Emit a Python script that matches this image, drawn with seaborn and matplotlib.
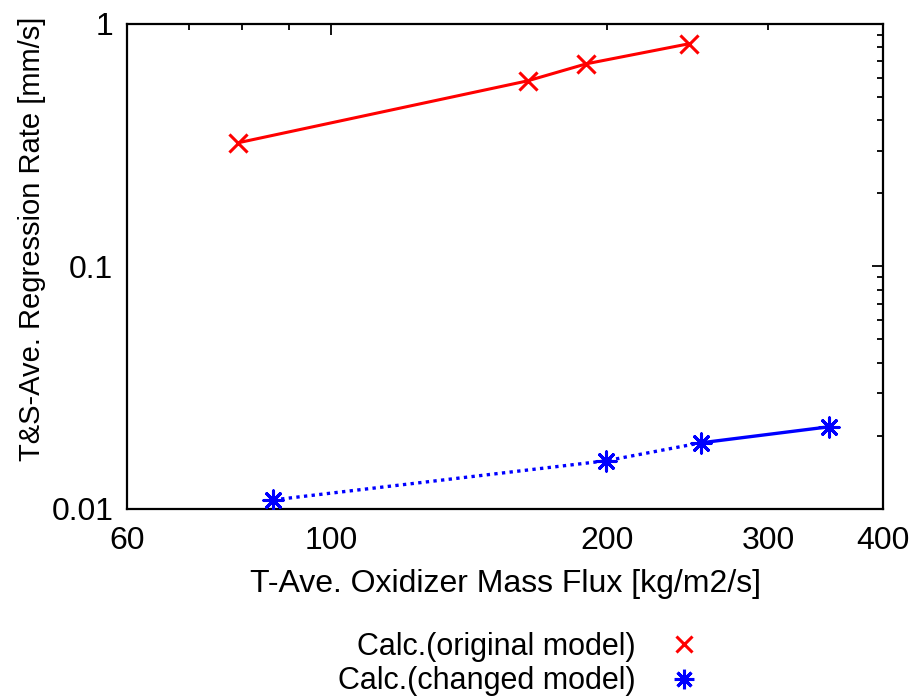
import matplotlib
matplotlib.use("Agg")
import matplotlib.pyplot as plt
import matplotlib.ticker as mticker
from matplotlib.lines import Line2D
import numpy as np
import pandas as pd
import seaborn as sns

# Regression rate vs. oxidizer mass flux
orig_flux = [79.2, 164.0, 190.0, 245.7]
orig_rate = [0.323, 0.582, 0.684, 0.827]

changed_flux = [86.6, 199.5, 253.0, 349.0]
changed_rate = [0.01089, 0.01578, 0.01871, 0.02179]

x_tick_values = [60, 100, 200, 300, 400]
x_tick_labels = ["60", "100", "200", "300", "400"]
y_tick_values = [0.01, 0.1, 1]
y_tick_labels = ["0.01", "0.1", "1"]

legend_labels = ["Calc.(original model)", "Calc.(changed model)"]

sns.set_theme(style="white")
plt.rcParams["font.family"] = ["Liberation Sans", "DejaVu Sans"]

fig = plt.figure(figsize=(9.16, 6.99), dpi=100)
ax = fig.add_axes([0.139, 0.272, 0.825, 0.694])

orig = pd.DataFrame({"flux": orig_flux, "rate": orig_rate})
chg = pd.DataFrame({"flux": changed_flux, "rate": changed_rate})

red = "#ff0000"
blue = "#0000ff"
FS = 23

sns.lineplot(data=orig, x="flux", y="rate", ax=ax, color=red, lw=2.2,
             sort=False, estimator=None)
sns.scatterplot(data=orig, x="flux", y="rate", ax=ax, marker="x", s=170,
                color=red, linewidth=2.2, zorder=5)

# changed model: dotted up to the third point, solid afterwards
sns.lineplot(data=chg.iloc[:3], x="flux", y="rate", ax=ax, color=blue, lw=2.4,
             linestyle=(0, (1, 1.3)), sort=False, estimator=None)
sns.lineplot(data=chg.iloc[2:], x="flux", y="rate", ax=ax, color=blue, lw=2.4,
             sort=False, estimator=None)
ast = (8, 2, 0)
sns.scatterplot(data=chg, x="flux", y="rate", ax=ax, marker=ast, s=190,
                color=blue, edgecolor=blue, linewidth=2.2, zorder=5)

ax.set_xscale("log")
ax.set_yscale("log")
ax.set_xlim(60, 400)
ax.set_ylim(0.01, 1)

# x ticks: decade major at 100, the rest minor; labelled at given values
ax.xaxis.set_major_locator(mticker.FixedLocator([100]))
ax.xaxis.set_major_formatter(mticker.FixedFormatter(["100"]))
minor_x = [60, 70, 80, 90, 200, 300, 400]
ax.xaxis.set_minor_locator(mticker.FixedLocator(minor_x))
minor_lbl = {v: l for v, l in zip(x_tick_values, x_tick_labels)}
ax.xaxis.set_minor_formatter(mticker.FixedFormatter([minor_lbl.get(v, "") for v in minor_x]))

ax.yaxis.set_major_locator(mticker.FixedLocator(y_tick_values))
ax.yaxis.set_major_formatter(mticker.FixedFormatter(y_tick_labels))
ax.yaxis.set_minor_locator(mticker.LogLocator(base=10, subs=np.arange(2, 10)))
ax.yaxis.set_minor_formatter(mticker.NullFormatter())

ax.tick_params(which="both", direction="in", top=True, right=True,
               color="black", width=1.3, labelsize=FS, labelcolor="black")
ax.tick_params(which="major", length=8)
ax.tick_params(which="minor", length=4)
ax.tick_params(axis="x", which="both", pad=12)
ax.tick_params(axis="y", which="both", pad=10)

for s in ax.spines.values():
    s.set_color("black")
    s.set_linewidth(1.6)

ax.set_xlabel("T-Ave. Oxidizer Mass Flux [kg/m2/s]", fontsize=FS, labelpad=10,
              color="black")
ax.set_ylabel("T&S-Ave. Regression Rate [mm/s]", fontsize=21, color="black")
ax.yaxis.set_label_coords(-0.108, 0.557)

handles = [
    Line2D([], [], linestyle="none", marker="x", color=red, markersize=12,
           markeredgewidth=2.2),
    Line2D([], [], linestyle="none", marker=ast, color=blue, markersize=14,
           markeredgewidth=2.2),
]
fig.legend(handles, legend_labels, loc="center",
           bbox_to_anchor=(0.566, 0.05), frameon=False, labelcolor="black",
           markerfirst=False, fontsize=22, handlelength=1.0, handletextpad=1.1,
           labelspacing=0.15)

fig.savefig("out.png", dpi=100, facecolor="white")
